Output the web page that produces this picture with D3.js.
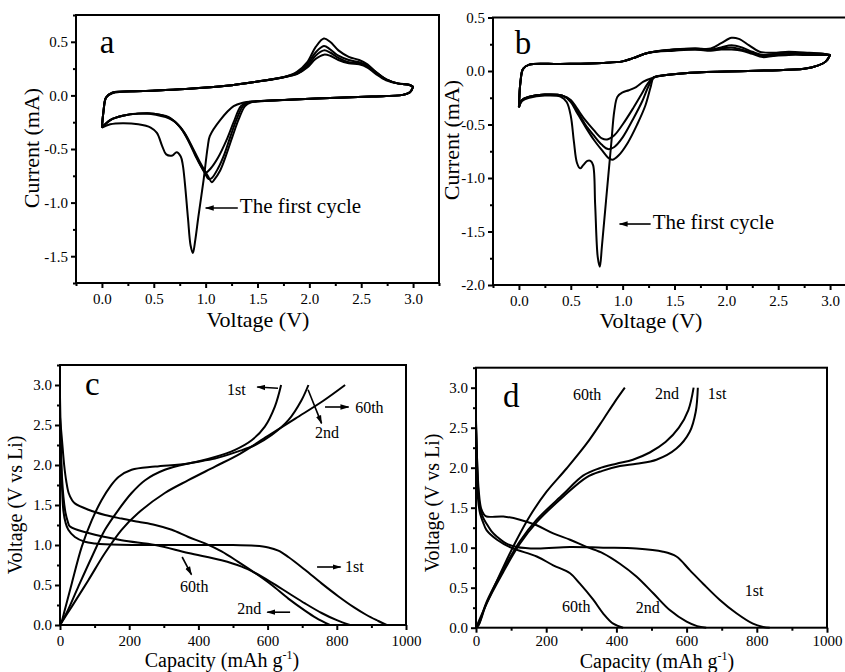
<!DOCTYPE html>
<html>
<head>
<meta charset="utf-8">
<script src="https://cdn.jsdelivr.net/npm/d3@7"></script>
<style>
  body { margin: 0; background: #fff; }
  svg { display: block; font-family: "Liberation Serif", "Times New Roman", serif; }
</style>
</head>
<body>
<svg id="chart"></svg>
<script>
// ---- panel a: cyclic voltammetry, points are [V, mA] ----
const aAnodic1 = [[0,-0.3],[0.015,-0.15],[0.04,-0.02],[0.1,0.02],[0.4,0.04],[0.8,0.06],[1.2,0.09],[1.5,0.13],[1.75,0.17],[1.88,0.22],[1.98,0.31],[2.06,0.45],[2.14,0.53],[2.2,0.5],[2.28,0.42],[2.38,0.36],[2.48,0.33],[2.56,0.29],[2.64,0.22],[2.74,0.15],[2.86,0.11],[2.96,0.1],[3.0,0.08]];
const aAnodic2 = [[0,-0.3],[0.015,-0.15],[0.04,-0.02],[0.1,0.025],[0.4,0.04],[0.8,0.06],[1.2,0.09],[1.5,0.13],[1.75,0.17],[1.88,0.21],[1.98,0.29],[2.06,0.4],[2.14,0.46],[2.2,0.43],[2.28,0.37],[2.38,0.33],[2.48,0.31],[2.56,0.28],[2.64,0.22],[2.74,0.15],[2.86,0.11],[2.96,0.1],[3.0,0.08]];
const aAnodic3 = [[0,-0.3],[0.015,-0.15],[0.04,-0.02],[0.1,0.025],[0.4,0.04],[0.8,0.06],[1.2,0.09],[1.5,0.13],[1.75,0.17],[1.88,0.2],[1.98,0.27],[2.06,0.37],[2.14,0.42],[2.2,0.4],[2.28,0.35],[2.38,0.31],[2.48,0.3],[2.56,0.27],[2.64,0.21],[2.74,0.15],[2.86,0.11],[2.96,0.1],[3.0,0.08]];
const aAnodic4 = [[0,-0.3],[0.015,-0.15],[0.04,-0.02],[0.1,0.025],[0.4,0.04],[0.8,0.06],[1.2,0.09],[1.5,0.13],[1.75,0.17],[1.88,0.2],[1.98,0.26],[2.06,0.34],[2.14,0.38],[2.2,0.37],[2.28,0.33],[2.38,0.3],[2.48,0.29],[2.56,0.26],[2.64,0.2],[2.74,0.14],[2.86,0.11],[2.96,0.1],[3.0,0.08]];
const aCathodic1 = [[3.0,0.08],[2.97,0.03],[2.9,0.005],[2.6,-0.01],[2.2,-0.025],[1.8,-0.04],[1.5,-0.055],[1.35,-0.07],[1.27,-0.1],[1.14,-0.23],[1.04,-0.38],[1.02,-0.48],[0.98,-0.79],[0.93,-1.13],[0.9,-1.35],[0.877,-1.47],[0.855,-1.4],[0.83,-1.15],[0.8,-0.82],[0.78,-0.65],[0.76,-0.57],[0.72,-0.53],[0.68,-0.56],[0.62,-0.55],[0.58,-0.47],[0.53,-0.35],[0.47,-0.3],[0.35,-0.27],[0.2,-0.26],[0.08,-0.27],[0,-0.3]];
const aCathodic2 = [[3.0,0.08],[2.97,0.03],[2.9,0.005],[2.6,-0.01],[2.2,-0.025],[1.8,-0.04],[1.5,-0.055],[1.4,-0.065],[1.34,-0.1],[1.27,-0.25],[1.2,-0.42],[1.12,-0.58],[1.05,-0.68],[1.0,-0.72],[0.96,-0.67],[0.9,-0.56],[0.82,-0.4],[0.74,-0.28],[0.64,-0.2],[0.5,-0.17],[0.35,-0.17],[0.2,-0.19],[0.08,-0.23],[0,-0.3]];
const aCathodic3 = [[3.0,0.08],[2.97,0.03],[2.9,0.005],[2.6,-0.01],[2.2,-0.025],[1.8,-0.04],[1.5,-0.055],[1.42,-0.065],[1.36,-0.1],[1.3,-0.22],[1.24,-0.38],[1.18,-0.55],[1.12,-0.68],[1.06,-0.77],[1.03,-0.78],[0.99,-0.72],[0.93,-0.61],[0.85,-0.45],[0.76,-0.3],[0.65,-0.21],[0.5,-0.17],[0.35,-0.17],[0.2,-0.19],[0.08,-0.23],[0,-0.3]];
const aCathodic4 = [[3.0,0.08],[2.97,0.03],[2.9,0.005],[2.6,-0.01],[2.2,-0.025],[1.8,-0.04],[1.5,-0.055],[1.44,-0.065],[1.38,-0.1],[1.32,-0.22],[1.26,-0.38],[1.2,-0.55],[1.14,-0.7],[1.08,-0.79],[1.06,-0.81],[1.02,-0.75],[0.96,-0.65],[0.88,-0.5],[0.79,-0.34],[0.68,-0.23],[0.52,-0.18],[0.35,-0.17],[0.2,-0.19],[0.08,-0.23],[0,-0.3]];

// ---- panel b: cyclic voltammetry, points are [V, mA] ----
const bAnodic1 = [[0,-0.34],[0.015,-0.1],[0.04,0.02],[0.1,0.06],[0.4,0.065],[0.8,0.075],[1.0,0.09],[1.1,0.12],[1.25,0.17],[1.5,0.2],[1.7,0.21],[1.85,0.21],[1.95,0.26],[2.05,0.31],[2.12,0.3],[2.22,0.24],[2.32,0.18],[2.45,0.17],[2.6,0.18],[2.8,0.17],[2.95,0.16],[3.0,0.15]];
const bAnodic2 = [[0,-0.34],[0.015,-0.1],[0.04,0.02],[0.1,0.06],[0.4,0.065],[0.8,0.075],[1.0,0.09],[1.1,0.12],[1.25,0.17],[1.5,0.2],[1.7,0.21],[1.85,0.2],[1.95,0.22],[2.05,0.24],[2.15,0.22],[2.25,0.18],[2.35,0.15],[2.45,0.16],[2.6,0.17],[2.8,0.16],[2.95,0.16],[3.0,0.15]];
const bAnodic3 = [[0,-0.34],[0.015,-0.1],[0.04,0.02],[0.1,0.06],[0.4,0.065],[0.8,0.075],[1.0,0.09],[1.1,0.12],[1.25,0.17],[1.5,0.2],[1.7,0.2],[1.85,0.2],[1.95,0.21],[2.05,0.22],[2.15,0.2],[2.25,0.17],[2.35,0.14],[2.45,0.15],[2.6,0.16],[2.8,0.16],[2.95,0.16],[3.0,0.15]];
const bAnodic4 = [[0,-0.34],[0.015,-0.1],[0.04,0.02],[0.1,0.06],[0.4,0.065],[0.8,0.075],[1.0,0.09],[1.1,0.12],[1.25,0.17],[1.5,0.19],[1.7,0.2],[1.85,0.19],[1.95,0.2],[2.05,0.2],[2.15,0.19],[2.25,0.16],[2.35,0.13],[2.45,0.14],[2.6,0.15],[2.8,0.15],[2.95,0.15],[3.0,0.15]];
const bCathodic1 = [[3.0,0.15],[2.96,0.09],[2.88,0.05],[2.75,0.02],[2.4,0.005],[2.0,-0.005],[1.6,-0.02],[1.4,-0.04],[1.3,-0.06],[1.2,-0.1],[1.13,-0.15],[1.06,-0.18],[1.0,-0.2],[0.95,-0.24],[0.92,-0.37],[0.89,-0.68],[0.84,-1.21],[0.8,-1.64],[0.78,-1.83],[0.76,-1.74],[0.735,-1.25],[0.715,-0.88],[0.69,-0.84],[0.66,-0.84],[0.62,-0.88],[0.59,-0.91],[0.56,-0.86],[0.53,-0.66],[0.5,-0.42],[0.46,-0.29],[0.4,-0.24],[0.25,-0.23],[0.1,-0.25],[0.03,-0.28],[0,-0.34]];
const bCathodic2 = [[3.0,0.15],[2.96,0.09],[2.88,0.05],[2.75,0.02],[2.4,0.005],[2.0,-0.005],[1.6,-0.02],[1.4,-0.04],[1.3,-0.06],[1.24,-0.12],[1.18,-0.22],[1.1,-0.35],[1.0,-0.5],[0.92,-0.6],[0.85,-0.64],[0.8,-0.63],[0.72,-0.55],[0.64,-0.46],[0.56,-0.35],[0.5,-0.27],[0.42,-0.23],[0.25,-0.22],[0.1,-0.24],[0.03,-0.27],[0,-0.34]];
const bCathodic3 = [[3.0,0.15],[2.96,0.09],[2.88,0.05],[2.75,0.02],[2.4,0.005],[2.0,-0.005],[1.6,-0.02],[1.4,-0.04],[1.3,-0.06],[1.25,-0.14],[1.19,-0.28],[1.1,-0.45],[1.0,-0.62],[0.92,-0.71],[0.86,-0.73],[0.8,-0.69],[0.72,-0.6],[0.64,-0.5],[0.56,-0.37],[0.5,-0.28],[0.42,-0.23],[0.25,-0.22],[0.1,-0.24],[0.03,-0.27],[0,-0.34]];
const bCathodic4 = [[3.0,0.15],[2.96,0.09],[2.88,0.05],[2.75,0.02],[2.4,0.005],[2.0,-0.005],[1.6,-0.02],[1.4,-0.04],[1.3,-0.06],[1.27,-0.15],[1.22,-0.32],[1.14,-0.5],[1.05,-0.67],[0.96,-0.79],[0.9,-0.83],[0.86,-0.81],[0.8,-0.74],[0.72,-0.64],[0.64,-0.52],[0.56,-0.39],[0.5,-0.29],[0.42,-0.23],[0.25,-0.22],[0.1,-0.24],[0.03,-0.27],[0,-0.34]];

// ---- panel c: charge / discharge, points are [mAh/g, V] ----
const cDischarge1 = [[0,2.85],[3,2.2],[6,1.7],[10,1.42],[16,1.28],[24,1.19],[43,1.1],[72,1.04],[101,1.02],[130,1.01],[250,1.0],[400,1.0],[500,1.0],[564,0.99],[602,0.97],[631,0.93],[660,0.85],[708,0.69],[756,0.52],[804,0.36],[850,0.22],[886,0.125],[920,0.05],[944,0]];
const cDischarge2 = [[0,2.6],[6,2.3],[12,2.0],[18,1.8],[25,1.65],[35,1.56],[43,1.52],[82,1.44],[130,1.375],[178,1.33],[226,1.29],[275,1.25],[323,1.19],[371,1.1],[419,1.02],[467,0.92],[515,0.79],[564,0.65],[612,0.5],[660,0.33],[708,0.18],[740,0.09],[780,0]];
const cDischarge60 = [[0,2.3],[5,1.9],[10,1.6],[16,1.4],[22,1.3],[29,1.23],[82,1.15],[178,1.06],[275,1.0],[371,0.9],[467,0.81],[525,0.73],[564,0.65],[612,0.53],[660,0.4],[708,0.27],[756,0.15],[800,0.06],[838,0]];
const cCharge1 = [[0,0],[3,0.02],[14,0.19],[34,0.52],[63,0.98],[92,1.31],[120,1.56],[145,1.73],[169,1.85],[207,1.94],[275,1.98],[371,2.02],[448,2.1],[506,2.19],[554,2.31],[592,2.48],[621,2.73],[639,3.0]];
const cCharge2 = [[0,0],[19,0.15],[53,0.48],[92,0.85],[130,1.19],[169,1.44],[207,1.65],[246,1.81],[303,1.94],[371,2.02],[448,2.08],[515,2.17],[564,2.25],[612,2.375],[660,2.56],[698,2.81],[718,3.0]];
const cCharge60 = [[0,0],[34,0.23],[82,0.56],[130,0.9],[178,1.19],[226,1.4],[303,1.65],[371,1.81],[448,1.98],[520,2.14],[600,2.36],[680,2.58],[760,2.8],[824,3.0]];

// ---- panel d: charge / discharge, points are [mAh/g, V] ----
const dDischarge1 = [[0,2.6],[3,2.1],[6,1.75],[11,1.51],[20,1.38],[30,1.3],[45,1.2],[59,1.14],[87,1.05],[116,1.01],[173,0.99],[268,1.01],[362,1.0],[457,0.99],[533,0.95],[571,0.89],[609,0.72],[647,0.55],[694,0.35],[742,0.18],[789,0.05],[818,0.01],[837,0]];
const dDischarge2 = [[0,2.55],[4,2.0],[8,1.7],[14,1.5],[22,1.42],[30,1.39],[78,1.39],[125,1.35],[173,1.28],[220,1.18],[268,1.1],[315,1.01],[362,0.93],[410,0.8],[457,0.64],[505,0.43],[552,0.22],[600,0.075],[630,0.02],[656,0]];
const dDischarge60 = [[0,2.5],[3,2.0],[6,1.6],[12,1.42],[20,1.32],[30,1.22],[60,1.1],[100,1.0],[173,0.89],[220,0.78],[268,0.68],[296,0.55],[334,0.35],[362,0.18],[391,0.05],[419,0]];
const dCharge1 = [[0,0],[7,0.03],[30,0.3],[78,0.7],[125,1.05],[173,1.32],[249,1.64],[315,1.88],[360,1.96],[410,2.02],[457,2.05],[514,2.1],[571,2.24],[609,2.45],[626,2.7],[632,3.0]];
const dCharge2 = [[0,0],[7,0.035],[30,0.32],[78,0.73],[125,1.08],[173,1.35],[249,1.67],[305,1.9],[350,1.99],[400,2.05],[447,2.1],[495,2.19],[540,2.32],[578,2.5],[605,2.72],[620,3.0]];
const dCharge60 = [[0,0],[30,0.3],[78,0.76],[116,1.1],[154,1.4],[201,1.7],[258,1.99],[315,2.3],[362,2.6],[395,2.82],[424,3.0]];

// tick values
const cvXTicks = [0, 0.5, 1.0, 1.5, 2.0, 2.5, 3.0];
const cvXMinor = [-0.25, 0.25, 0.75, 1.25, 1.75, 2.25, 2.75, 3.25];
const aYTicks = [-1.5, -1.0, -0.5, 0.0, 0.5];
const aYMinor = [-1.75, -1.25, -0.75, -0.25, 0.25, 0.75];
const bYTicks = [-2.0, -1.5, -1.0, -0.5, 0.0, 0.5];
const bYMinor = [-1.75, -1.25, -0.75, -0.25, 0.25];
const capXTicks = [0, 200, 400, 600, 800, 1000];
const capXMinor = [100, 300, 500, 700, 900];
const capYTicks = [0.0, 0.5, 1.0, 1.5, 2.0, 2.5, 3.0];
const capYMinor = [0.25, 0.75, 1.25, 1.75, 2.25, 2.75, 3.25];

let width = 845;
let height = 672;

let svg = d3.select('#chart').attr('width', width).attr('height', height);
svg.append('rect').attr('width', width).attr('height', height).attr('fill', '#fff');

//arrow head used by the annotations
svg.append('defs').append('marker')
    .attr('id', 'head')
    .attr('viewBox', '0 0 10 10')
    .attr('refX', 9).attr('refY', 5)
    .attr('markerWidth', 9).attr('markerHeight', 9)
    .attr('markerUnits', 'userSpaceOnUse')
    .attr('orient', 'auto')
  .append('path')
    .attr('d', 'M0,2 L10,5 L0,8 Z')
    .attr('fill', '#000');

let fmt1 = d => d.toFixed(1);

let drawPanel = (p) => {
    let xScale = d3.scaleLinear().domain(p.xDomain).range(p.xRange);
    let yScale = d3.scaleLinear().domain(p.yDomain).range(p.yRange);
    let g = svg.append('g');

    let line = d3.line()
        .x(d => xScale(d[0]))
        .y(d => yScale(d[1]))
        .curve(d3.curveCatmullRom.alpha(0.5));

    g.append('g').selectAll('path')
        .data(p.curves)
        .join('path')
        .attr('d', line)
        .attr('fill', 'none')
        .attr('stroke', '#000')
        .attr('stroke-width', 2)
        .attr('stroke-linejoin', 'round');

    //frame
    g.append('rect')
        .attr('x', p.xRange[0]).attr('y', p.yRange[1])
        .attr('width', p.xRange[1] - p.xRange[0])
        .attr('height', p.yRange[0] - p.yRange[1])
        .attr('fill', 'none').attr('stroke', '#000').attr('stroke-width', 2);

    //axes, major and minor ticks
    let bottom = p.yRange[0];
    let left = p.xRange[0];
    let axes = [
        [d3.axisBottom(xScale).tickValues(p.xTicks).tickFormat(p.xFmt).tickSize(5).tickPadding(p.xPad), `translate(0,${bottom})`],
        [d3.axisBottom(xScale).tickValues(p.xMinor).tickFormat('').tickSize(3), `translate(0,${bottom})`],
        [d3.axisLeft(yScale).tickValues(p.yTicks).tickFormat(fmt1).tickSize(5).tickPadding(3), `translate(${left},0)`],
        [d3.axisLeft(yScale).tickValues(p.yMinor).tickFormat('').tickSize(3), `translate(${left},0)`]
    ];
    axes.forEach(([ax, tr]) => {
        let a = g.append('g').attr('transform', tr).call(ax.tickSizeOuter(0));
        a.attr('font-family', null).attr('font-size', 15);
        a.select('.domain').remove();
        a.selectAll('line').attr('stroke', '#000').attr('stroke-width', 2);
        a.selectAll('text').attr('fill', '#000');
    });

    //axis titles
    g.append('text')
        .attr('x', p.xTitle[0]).attr('y', p.xTitle[1])
        .attr('text-anchor', 'middle').attr('font-size', p.titleSize)
        .call(t => p.xTitleText(t));
    g.append('text')
        .attr('transform', `translate(${p.yTitle[0]},${p.yTitle[1]}) rotate(-90)`)
        .attr('text-anchor', 'middle').attr('font-size', p.titleSize)
        .text(p.yTitleText);

    //panel letter and annotations (placed in data units)
    g.append('text')
        .attr('x', xScale(p.letter[1])).attr('y', yScale(p.letter[2]))
        .attr('font-size', 33).text(p.letter[0]);

    g.selectAll('.note')
        .data(p.notes)
        .join('text')
        .attr('x', d => xScale(d[1])).attr('y', d => yScale(d[2]))
        .attr('font-size', p.noteSize)
        .text(d => d[0]);

    g.selectAll('.arrow')
        .data(p.arrows)
        .join('line')
        .attr('x1', d => xScale(d[0])).attr('y1', d => yScale(d[1]))
        .attr('x2', d => xScale(d[2])).attr('y2', d => yScale(d[3]))
        .attr('stroke', '#000').attr('stroke-width', 1.6)
        .attr('marker-end', 'url(#head)');
};

let plainTitle = s => t => t.text(s);
let capTitle = t => {
    t.append('tspan').text('Capacity (mAh g');
    t.append('tspan').attr('dy', -8).attr('font-size', 12).text('-1');
    t.append('tspan').attr('dy', 8).text(')');
};

drawPanel({
    xDomain: [-0.25, 3.25], xRange: [76, 439],
    yDomain: [-1.75, 0.75], yRange: [283, 15],
    curves: [aAnodic1.concat(aCathodic1), aAnodic2.concat(aCathodic2), aAnodic3.concat(aCathodic3), aAnodic4.concat(aCathodic4)],
    xTicks: cvXTicks, xMinor: cvXMinor, xFmt: fmt1, xPad: 5,
    yTicks: aYTicks, yMinor: aYMinor,
    titleSize: 22,
    xTitle: [258, 327], xTitleText: plainTitle('Voltage (V)'),
    yTitle: [39, 148], yTitleText: 'Current (mA)',
    letter: ['a', -0.02, 0.4],
    notes: [['The first cycle', 1.33, -1.1]], noteSize: 21,
    arrows: [[1.31, -1.05, 1.0, -1.05]]
});

drawPanel({
    xDomain: [-0.25, 3.25], xRange: [493, 856],
    yDomain: [-2.0, 0.5], yRange: [285, 17.5],
    curves: [bAnodic1.concat(bCathodic1), bAnodic2.concat(bCathodic2), bAnodic3.concat(bCathodic3), bAnodic4.concat(bCathodic4)],
    xTicks: cvXTicks, xMinor: cvXMinor, xFmt: fmt1, xPad: 5,
    yTicks: bYTicks, yMinor: bYMinor,
    titleSize: 22,
    xTitle: [651, 328], xTitleText: plainTitle('Voltage (V)'),
    yTitle: [459, 140], yTitleText: 'Current (mA)',
    letter: ['b', -0.04, 0.16],
    notes: [['The first cycle', 1.29, -1.48]], noteSize: 21,
    arrows: [[1.27, -1.43, 0.97, -1.43]]
});

drawPanel({
    xDomain: [0, 1000], xRange: [60, 406],
    yDomain: [0, 3.25], yRange: [625, 365],
    curves: [cDischarge1, cDischarge2, cDischarge60, cCharge1, cCharge2, cCharge60],
    xTicks: capXTicks, xMinor: capXMinor, xFmt: d3.format('d'), xPad: 5,
    yTicks: capYTicks, yMinor: capYMinor,
    titleSize: 20,
    xTitle: [222, 667], xTitleText: capTitle,
    yTitle: [22, 505], yTitleText: 'Voltage (V vs Li)',
    letter: ['c', 72, 2.875],
    notes: [['1st', 483, 2.875], ['2nd', 737, 2.34], ['60th', 853, 2.65], ['1st', 824, 0.66], ['60th', 347, 0.41], ['2nd', 512, 0.14]],
    noteSize: 16,
    arrows: [[630, 2.96, 570, 2.975], [717, 2.94, 756, 2.52], [766, 2.725, 834, 2.725], [743, 0.725, 811, 0.725], [353, 0.85, 380, 0.63], [665, 0.16, 599, 0.16]]
});

drawPanel({
    xDomain: [0, 1000], xRange: [476, 827],
    yDomain: [0, 3.25], yRange: [627.7, 367.7],
    curves: [dDischarge1, dDischarge2, dDischarge60, dCharge1, dCharge2, dCharge60],
    xTicks: capXTicks, xMinor: capXMinor, xFmt: d3.format('d'), xPad: 3,
    yTicks: capYTicks, yMinor: capYMinor,
    titleSize: 20,
    xTitle: [657, 668], xTitleText: capTitle,
    yTitle: [439, 503], yTitleText: 'Voltage (V vs Li)',
    letter: ['d', 77, 2.76],
    notes: [['60th', 276, 2.85], ['2nd', 510, 2.86], ['1st', 660, 2.86], ['1st', 766, 0.4], ['60th', 245, 0.2], ['2nd', 455, 0.18]],
    noteSize: 16,
    arrows: []
});
</script>
</body>
</html>
